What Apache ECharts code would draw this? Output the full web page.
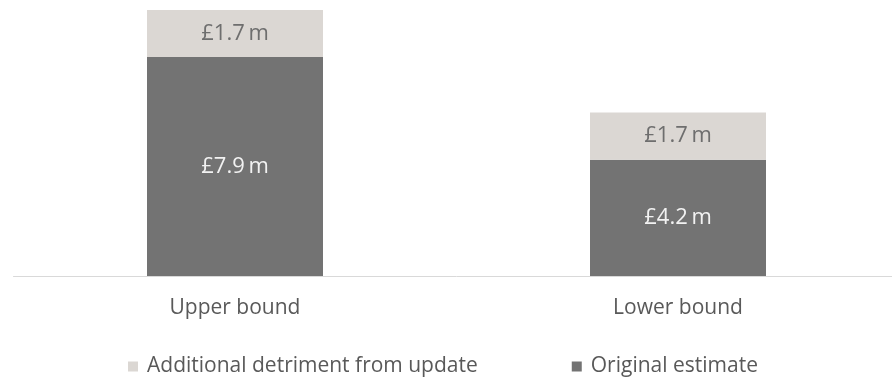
<!DOCTYPE html>
<html><head><meta charset="utf-8">
<script src="https://cdn.jsdelivr.net/npm/echarts@6/dist/echarts.min.js"></script>
<style>html,body{margin:0;padding:0;background:#fff;overflow:hidden}#c{width:900px;height:378px}</style>
</head><body><div id="c"></div>
<script>
const categories = ["Upper bound", "Lower bound"];
const originalEstimate = [7.9, 4.2];
const additionalDetriment = [1.7, 1.7];
const seriesNames = ["Additional detriment from update", "Original estimate"];

const FONT = "Open Sans";
const chart = echarts.init(document.getElementById('c'));
const fmt = p => '£' + p.value.toFixed(1) + '\u2009m';
chart.setOption({
  animation: false,
  grid: { left: 13.5, right: 0.5, top: 10, bottom: 102, containLabel: false },
  legend: {
    data: [seriesNames[0], seriesNames[1]],
    bottom: -4, left: 123,
    itemWidth: 10, itemHeight: 10, itemGap: 94,
    icon: 'rect',
    textStyle: { fontFamily: FONT, fontSize: 21, color: '#595959', padding: [0,0,0,4] }
  },
  xAxis: {
    type: 'category', data: categories,
    axisLine: { show: true, lineStyle: { color: '#d9d9d9', width: 1 } },
    axisTick: { show: false },
    axisLabel: { fontFamily: FONT, fontSize: 21, color: '#595959', margin: 22 }
  },
  yAxis: {
    type: 'value', min: 0, max: 9.6,
    show: false, splitLine: { show: false }
  },
  series: [
    {
      name: seriesNames[1], type: 'bar', stack: 's', data: originalEstimate,
      barWidth: 176,
      itemStyle: { color: '#737373' },
      label: { show: true, position: 'inside', formatter: fmt, fontFamily: FONT, fontSize: 22, color: '#f2f2f2' }
    },
    {
      name: seriesNames[0], type: 'bar', stack: 's', data: additionalDetriment,
      barWidth: 176,
      itemStyle: { color: '#dbd7d3' },
      label: { show: true, position: 'inside', formatter: fmt, fontFamily: FONT, fontSize: 22, color: '#6e6e6e' }
    }
  ]
});
</script></body></html>
